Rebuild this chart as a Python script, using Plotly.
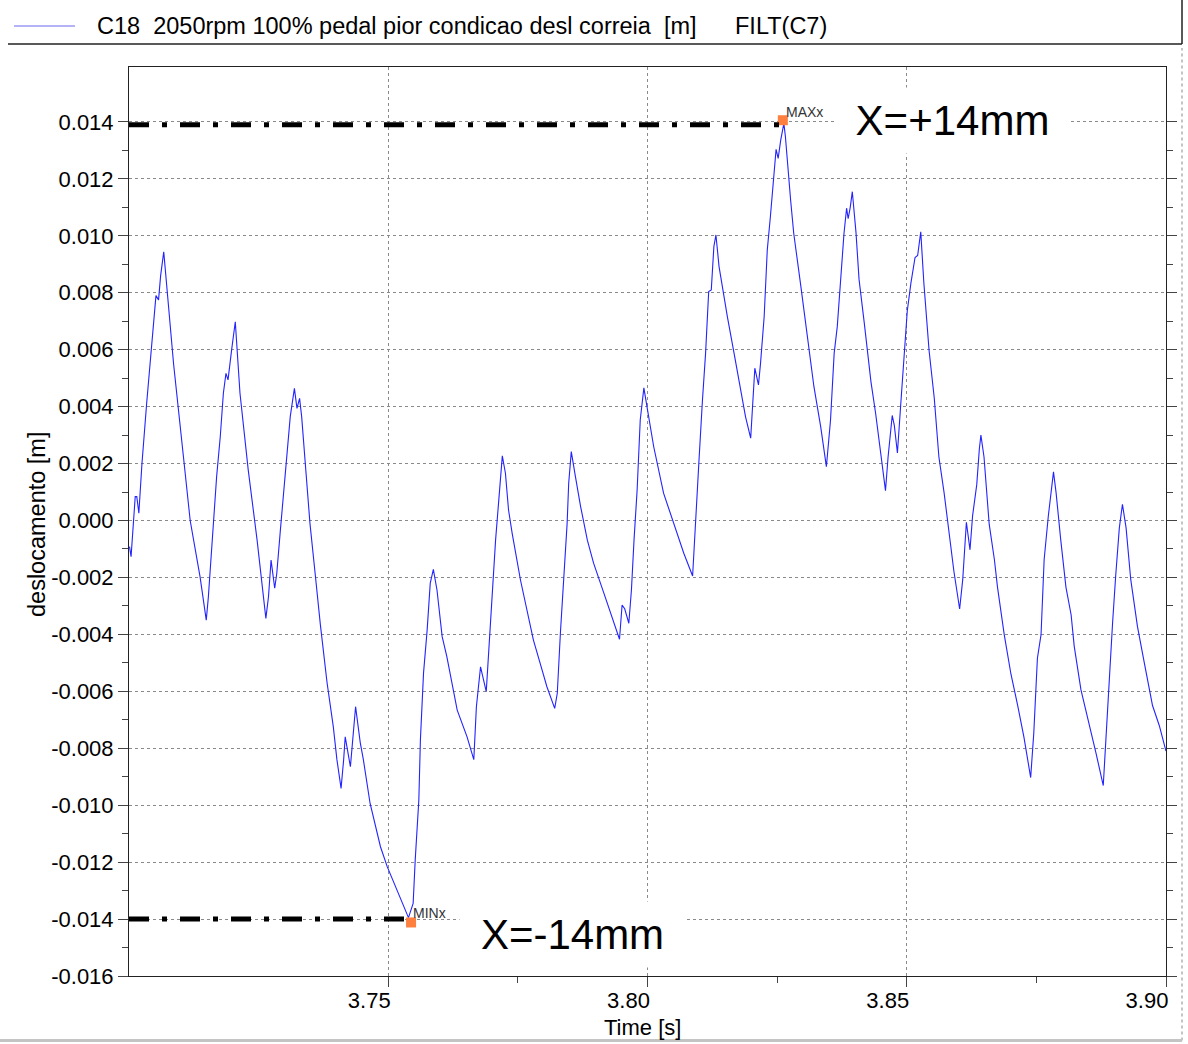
import plotly.graph_objects as go

# ---------------- data ----------------
time_s = [
    3.7001, 3.7004, 3.7012, 3.7015, 3.7019, 3.7025, 3.7034, 3.7047, 3.7052, 3.7057,
    3.7061, 3.7067, 3.7079, 3.7086, 3.7105, 3.7118, 3.7137, 3.7149, 3.7153, 3.7169,
    3.7176, 3.7182, 3.7187, 3.7191, 3.7198, 3.7205, 3.7214, 3.7230, 3.7247, 3.7264,
    3.7269, 3.7274, 3.7281, 3.7285, 3.7292, 3.7298, 3.7304, 3.7311, 3.7319, 3.7324,
    3.7329, 3.7333, 3.7340, 3.7349, 3.7359, 3.7369, 3.7382, 3.7394, 3.7401, 3.7409,
    3.7414, 3.7417, 3.7427, 3.7433, 3.7437, 3.7446, 3.7452, 3.7465, 3.7485, 3.7498,
    3.7517, 3.7539, 3.7548, 3.7552, 3.7559, 3.7562, 3.7568, 3.7575, 3.7581, 3.7587,
    3.7594, 3.7604, 3.7613, 3.7626, 3.7633, 3.7652, 3.7665, 3.7670, 3.7678, 3.7689,
    3.7694, 3.7700, 3.7707, 3.7720, 3.7726, 3.7732, 3.7739, 3.7755, 3.7768, 3.7780,
    3.7793, 3.7806, 3.7821, 3.7826, 3.7832, 3.7838, 3.7845, 3.7848, 3.7853, 3.7861,
    3.7871, 3.7884, 3.7896, 3.7916, 3.7935, 3.7946, 3.7951, 3.7956, 3.7964, 3.7969,
    3.7974, 3.7980, 3.7986, 3.7993, 3.7999, 3.8012, 3.8031, 3.8051, 3.8070, 3.8087,
    3.8093, 3.8099, 3.8106, 3.8112, 3.8118, 3.8123, 3.8128, 3.8132, 3.8138, 3.8144,
    3.8154, 3.8167, 3.8180, 3.8189, 3.8199, 3.8203, 3.8207, 3.8214, 3.8218, 3.8225,
    3.8231, 3.8237, 3.8244, 3.8248, 3.8252, 3.8257, 3.8263, 3.8266, 3.8276, 3.8282,
    3.8295, 3.8308, 3.8321, 3.8334, 3.8345, 3.8353, 3.8360, 3.8366, 3.8371, 3.8379,
    3.8384, 3.8387, 3.8391, 3.8395, 3.8402, 3.8408, 3.8418, 3.8424, 3.8431, 3.8440,
    3.8450, 3.8459, 3.8464, 3.8472, 3.8476, 3.8482, 3.8488, 3.8495, 3.8501, 3.8508,
    3.8512, 3.8516, 3.8521, 3.8527, 3.8533, 3.8543, 3.8553, 3.8562, 3.8572, 3.8582,
    3.8591, 3.8602, 3.8608, 3.8615, 3.8622, 3.8627, 3.8635, 3.8640, 3.8643, 3.8649,
    3.8659, 3.8669, 3.8675, 3.8688, 3.8701, 3.8714, 3.8726, 3.8739, 3.8745, 3.8752,
    3.8759, 3.8765, 3.8773, 3.8783, 3.8788, 3.8797, 3.8807, 3.8817, 3.8823, 3.8836,
    3.8849, 3.8865, 3.8879, 3.8884, 3.8891, 3.8897, 3.8903, 3.8910, 3.8916, 3.8923,
    3.8932, 3.8945, 3.8958, 3.8974, 3.8987, 3.9000,
]

displacement_m = [
    -0.00092, -0.00127, 0.00084, 0.00084, 0.00026, 0.00200, 0.00410, 0.00680, 0.00790, 0.00775,
    0.00860, 0.00944, 0.00690, 0.00550, 0.00224, 0.00000, -0.00197, -0.00350, -0.00270, 0.00154,
    0.00294, 0.00447, 0.00517, 0.00494, 0.00600, 0.00698, 0.00448, 0.00177, -0.00068, -0.00344,
    -0.00268, -0.00139, -0.00238, -0.00186, -0.00033, 0.00084, 0.00224, 0.00365, 0.00464, 0.00394,
    0.00429, 0.00365, 0.00200, -0.00010, -0.00186, -0.00365, -0.00570, -0.00724, -0.00840, -0.00941,
    -0.00840, -0.00760, -0.00865, -0.00724, -0.00654, -0.00780, -0.00840, -0.00994, -0.01146, -0.01216,
    -0.01298, -0.01395, -0.01345, -0.01193, -0.00982, -0.00771, -0.00537, -0.00385, -0.00220, -0.00172,
    -0.00244, -0.00408, -0.00478, -0.00596, -0.00666, -0.00760, -0.00840, -0.00654, -0.00514, -0.00601,
    -0.00455, -0.00291, -0.00069, 0.00227, 0.00166, 0.00037, -0.00045, -0.00209, -0.00314, -0.00420,
    -0.00502, -0.00584, -0.00660, -0.00607, -0.00396, -0.00209, -0.00010, 0.00131, 0.00242, 0.00154,
    0.00049, -0.00069, -0.00150, -0.00256, -0.00361, -0.00417, -0.00297, -0.00310, -0.00361, -0.00244,
    -0.00069, 0.00107, 0.00353, 0.00466, 0.00400, 0.00259, 0.00096, -0.00010, -0.00115, -0.00195,
    0.00025, 0.00201, 0.00423, 0.00587, 0.00804, 0.00810, 0.00962, 0.01003, 0.00892, 0.00821,
    0.00716, 0.00587, 0.00458, 0.00365, 0.00289, 0.00400, 0.00535, 0.00476, 0.00552, 0.00716,
    0.00950, 0.01067, 0.01208, 0.01304, 0.01272, 0.01337, 0.01395, 0.01348, 0.01126, 0.01009,
    0.00833, 0.00658, 0.00470, 0.00330, 0.00189, 0.00353, 0.00587, 0.00681, 0.00821, 0.01009,
    0.01097, 0.01060, 0.01100, 0.01155, 0.01014, 0.00847, 0.00695, 0.00598, 0.00487, 0.00376,
    0.00223, 0.00105, 0.00223, 0.00369, 0.00334, 0.00237, 0.00397, 0.00598, 0.00736, 0.00834,
    0.00875, 0.00924, 0.00931, 0.01014, 0.00834, 0.00598, 0.00431, 0.00223, 0.00098, -0.00054,
    -0.00179, -0.00311, -0.00207, -0.00006, -0.00103, 0.00017, 0.00126, 0.00251, 0.00300, 0.00223,
    -0.00013, -0.00137, -0.00234, -0.00401, -0.00540, -0.00650, -0.00761, -0.00903, -0.00747, -0.00484,
    -0.00401, -0.00137, 0.00015, 0.00171, 0.00098, -0.00068, -0.00234, -0.00331, -0.00442, -0.00595,
    -0.00692, -0.00817, -0.00931, -0.00761, -0.00567, -0.00359, -0.00193, -0.00026, 0.00057, -0.00026,
    -0.00207, -0.00373, -0.00498, -0.00650, -0.00720, -0.00810,
]

# extreme markers (MAXx / MINx)
extreme_times = [3.8261, 3.7544]
extreme_values = [0.01406, -0.01412]
extreme_labels = ["MAXx", "MINx"]

# tick labels
x_tick_vals = [3.75, 3.80, 3.85, 3.90]
x_tick_text = ["3.75", "3.80", "3.85", "3.90"]
x_minor_vals = [3.775, 3.825, 3.875]
y_tick_vals = [-0.016, -0.014, -0.012, -0.010, -0.008, -0.006, -0.004, -0.002,
               0.000, 0.002, 0.004, 0.006, 0.008, 0.010, 0.012, 0.014]
y_tick_text = ["-0.016", "-0.014", "-0.012", "-0.010", "-0.008", "-0.006", "-0.004", "-0.002",
               "0.000", "0.002", "0.004", "0.006", "0.008", "0.010", "0.012", "0.014"]
y_minor_vals = [-0.015, -0.013, -0.011, -0.009, -0.007, -0.005, -0.003, -0.001,
                0.001, 0.003, 0.005, 0.007, 0.009, 0.011, 0.013]

legend_text = "C18\u00a0\u00a02050rpm 100% pedal pior condicao desl correia\u00a0\u00a0[m]"
legend_text2 = "FILT(C7)"
x_title = "Time [s]"
y_title = "deslocamento [m]"
max_text = "X=+14mm"
min_text = "X=-14mm"

FONT = "Liberation Sans, Arial, sans-serif"
AXC = "#444444"

fig = go.Figure()

fig.add_trace(go.Scatter(
    x=time_s, y=displacement_m, mode="lines",
    line=dict(color="#2323ff", width=1.1),
    hoverinfo="skip",
))

fig.add_trace(go.Scatter(
    x=extreme_times, y=extreme_values, mode="markers",
    marker=dict(symbol="square", size=10, color="#ff7f3f"),
    hoverinfo="skip",
))

fig.update_layout(
    width=1188, height=1044,
    margin=dict(l=129, r=22, t=67, b=68),
    paper_bgcolor="white", plot_bgcolor="white",
    showlegend=False,
    font=dict(family=FONT, size=22, color="black"),
)

fig.update_xaxes(
    range=[3.70, 3.90],
    tickmode="array", tickvals=x_tick_vals, ticktext=x_tick_text,
    ticks="outside", ticklen=10, tickwidth=1, tickcolor=AXC,
    ticklabelshift=-19, ticklabelstandoff=-5,
    tickfont=dict(family=FONT, size=22, color="black"),
    showline=True, linecolor="#222222", linewidth=1, mirror=True,
    showgrid=True, gridcolor="#8a8a8a", gridwidth=1, griddash="dot",
    zeroline=False,
    minor=dict(tickmode="array", tickvals=x_minor_vals, ticks="outside",
               ticklen=6, tickcolor=AXC, showgrid=False),
)

fig.update_yaxes(
    range=[-0.016, 0.01593],
    tickmode="array", tickvals=y_tick_vals, ticktext=y_tick_text,
    ticks="outside", ticklen=10, tickwidth=1, tickcolor=AXC,
    tickfont=dict(family=FONT, size=22, color="black"),
    showline=True, linecolor="#222222", linewidth=1, mirror="allticks",
    showgrid=True, gridcolor="#8a8a8a", gridwidth=1, griddash="dot",
    zeroline=False,
    minor=dict(tickmode="array", tickvals=y_minor_vals, ticks="outside",
               ticklen=6, tickcolor=AXC, showgrid=False),
)

# dash-dot guide lines at the extremes
fig.add_shape(type="line", xref="x", yref="y", x0=3.70, x1=3.8261, y0=0.0139, y1=0.0139,
              line=dict(color="black", width=5, dash="20px,13px,5px,13px"), layer="above")
fig.add_shape(type="line", xref="x", yref="y", x0=3.70, x1=3.7538, y0=-0.0140, y1=-0.0140,
              line=dict(color="black", width=5, dash="20px,13px,5px,13px"), layer="above")

# legend header frame
fig.add_shape(type="line", xref="paper", yref="paper", x0=-0.11668, x1=1.01543, y0=1.0253, y1=1.0253,
              line=dict(color="#222222", width=1.5))
fig.add_shape(type="line", xref="paper", yref="paper", x0=1.01543, x1=1.01543, y0=1.0253, y1=1.0737,
              line=dict(color="#222222", width=1.5))
# legend sample line
fig.add_shape(type="line", xref="paper", yref="paper", x0=-0.1109, x1=-0.0521, y0=1.0451, y1=1.0451,
              line=dict(color="#9a9af2", width=1.5))
# window frame (bottom and right)
fig.add_shape(type="line", xref="paper", yref="paper", x0=-0.1244, x1=1.01543, y0=-0.07096, y1=-0.07096,
              line=dict(color="#c4c4c4", width=3))
fig.add_shape(type="line", xref="paper", yref="paper", x0=1.01543, x1=1.01543, y0=-0.07096, y1=1.0209,
              line=dict(color="#c4c4c4", width=2, dash="dot"))

annotations = [
    dict(text=legend_text, xref="paper", yref="paper", x=-0.03279, y=1.0451,
         xanchor="left", yanchor="middle", showarrow=False,
         font=dict(family=FONT, size=23.5, color="black")),
    dict(text=legend_text2, xref="paper", yref="paper", x=0.58245, y=1.0451,
         xanchor="left", yanchor="middle", showarrow=False,
         font=dict(family=FONT, size=23.5, color="black")),
    dict(text=y_title, xref="paper", yref="paper", x=-0.08872, y=0.49725,
         xanchor="center", yanchor="middle", textangle=-90, showarrow=False,
         font=dict(family=FONT, size=23.5, color="black")),
    dict(text=x_title, xref="paper", yref="paper", x=0.49566, y=-0.0572,
         xanchor="center", yanchor="middle", showarrow=False,
         font=dict(family=FONT, size=22, color="black")),
    dict(text=extreme_labels[0], xref="x", yref="y", x=3.8263, y=0.014358,
         xanchor="left", yanchor="middle", showarrow=False,
         font=dict(family=FONT, size=14, color="#333333")),
    dict(text=extreme_labels[1], xref="x", yref="y", x=3.7544, y=-0.0138,
         xanchor="left", yanchor="middle", showarrow=False,
         font=dict(family=FONT, size=14, color="#333333")),
    dict(text=max_text, xref="x", yref="y", x=3.8588, y=0.01406,
         xanchor="center", yanchor="middle", showarrow=False,
         width=213, align="center", bgcolor="white", borderpad=9,
         font=dict(family=FONT, size=42, color="black")),
    dict(text=min_text, xref="x", yref="y", x=3.7855, y=-0.01454,
         xanchor="center", yanchor="middle", showarrow=False,
         width=207, align="center", bgcolor="white", borderpad=9,
         font=dict(family=FONT, size=42, color="black")),
]
fig.update_layout(annotations=annotations)

fig.write_html("out.html")
